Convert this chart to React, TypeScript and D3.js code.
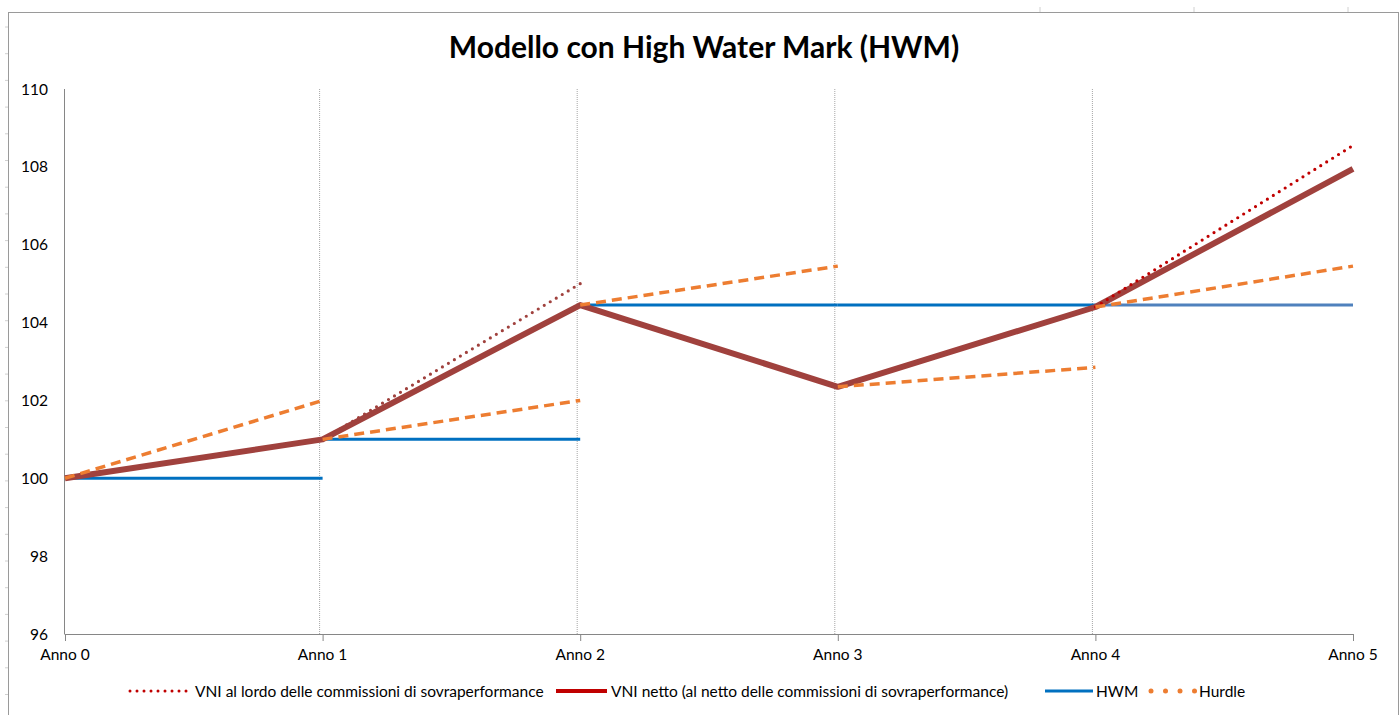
import React from "react";
import * as d3 from "d3";

const categories = ["Anno 0", "Anno 1", "Anno 2", "Anno 3", "Anno 4", "Anno 5"];
const yTicks = [96, 98, 100, 102, 104, 106, 108, 110];
const vniNetto = [100, 101, 104.45, 102.35, 104.4, 107.95];
// segments: [start category index, start value, end value] (to next category)
const vniLordoSegments: [number, number, number][] = [
  [1, 101, 105],
  [4, 104.4, 108.55],
];
const hwmSegments: [number, number, number][] = [
  [0, 100, 100],
  [1, 101, 101],
  [2, 104.45, 104.45],
  [3, 104.45, 104.45],
  [4, 104.45, 104.45],
];
const hurdleSegments: [number, number, number][] = [
  [0, 100, 102],
  [1, 101, 102],
  [2, 104.45, 105.45],
  [3, 102.35, 102.85],
  [4, 104.4, 105.45],
];
const legendLabels = [
  "VNI al lordo delle commissioni di sovraperformance",
  "VNI netto (al netto delle commissioni di sovraperformance)",
  "HWM",
  "Hurdle",
];

const W = 1400;
const H = 715;
const FONT = "Lato, 'Open Sans', sans-serif";

export default function App() {
  const x = d3.scalePoint<number>().domain(d3.range(categories.length)).range([65, 1353]);
  const y = d3.scaleLinear().domain([96, 110]).range([634, 89]);
  const line = d3
    .line<[number, number]>()
    .x((d) => x(d[0])!)
    .y((d) => y(d[1]));

  const seg = (s: [number, number, number]) =>
    line([
      [s[0], s[1]],
      [s[0] + 1, s[2]],
    ])!;

  const nettoPath = line(vniNetto.map((v, i) => [i, v] as [number, number]))!;

  const brown = "#A0413D";
  const red = "#C00000";
  const blue = "#0070C0";
  const orange = "#ED7D31";

  const rowTicks = d3.range(27, 715, 26.7);
  const colTicks = [1040, 1194, 1348];

  return (
    <svg
      width={W}
      height={H}
      style={{ position: "absolute", left: 0, top: 0, background: "#fff" }}
      fontFamily={FONT}
    >
      {/* spreadsheet hints */}
      {rowTicks.map((t, i) => (
        <line key={"r" + i} x1={5} x2={8} y1={t} y2={t} stroke="#d0d0d0" strokeWidth={1} />
      ))}
      {colTicks.map((t, i) => (
        <line key={"c" + i} x1={t} x2={t} y1={7} y2={12} stroke="#d0d0d0" strokeWidth={1} />
      ))}
      {/* chart frame */}
      <rect x={8.5} y={12.5} width={1390} height={710} fill="#fff" stroke="#9a9a9a" strokeWidth={1} />

      {/* title */}
      <text x={704} y={58} textAnchor="middle" fontSize={30} fontWeight="bold" fill="#000">
        Modello con High Water Mark (HWM)
      </text>

      {/* vertical gridlines */}
      {categories.slice(1, 5).map((c, i) => (
        <line
          key={c}
          x1={x(i + 1)! - 3}
          x2={x(i + 1)! - 3}
          y1={89}
          y2={634}
          stroke="#a6a6a6"
          strokeWidth={1}
          strokeDasharray="1 1"
        />
      ))}

      {/* axes */}
      <line x1={64.5} x2={64.5} y1={89} y2={634} stroke="#868686" strokeWidth={1} />
      <line x1={64.5} x2={1353} y1={634.5} y2={634.5} stroke="#868686" strokeWidth={1} />
      {categories.map((c, i) => (
        <g key={c}>
          <line x1={x(i)! + 0.5} x2={x(i)! + 0.5} y1={634} y2={641} stroke="#868686" strokeWidth={1} />
          <text x={x(i)!} y={660} textAnchor="middle" fontSize={15.5} fill="#000">
            {c}
          </text>
        </g>
      ))}
      {yTicks.map((t) => (
        <text key={t} x={48} y={y(t) + 5.5} textAnchor="end" fontSize={15.5} fill="#000">
          {t}
        </text>
      ))}

      {/* HWM */}
      {hwmSegments.map((s, i) => (
        <path
          key={"h" + i}
          d={seg(s)}
          fill="none"
          stroke={i === 4 ? "#4F81BD" : blue}
          strokeWidth={3}
        />
      ))}

      {/* VNI netto */}
      <path d={nettoPath} fill="none" stroke={brown} strokeWidth={6} strokeLinejoin="round" />

      {/* VNI lordo */}
      {vniLordoSegments.map((s, i) => (
        <path
          key={"l" + i}
          d={seg(s)}
          fill="none"
          stroke={i === 0 ? brown : red}
          strokeWidth={3.2}
          strokeLinecap="round"
          strokeDasharray="0 7"
        />
      ))}

      {/* Hurdle */}
      {hurdleSegments.map((s, i) => (
        <path
          key={"u" + i}
          d={seg(s)}
          fill="none"
          stroke={orange}
          strokeWidth={3.5}
          strokeDasharray="10 6"
        />
      ))}

      {/* legend */}
      <g fontSize={15.5} fill="#000">
        <line x1={130} x2={188} y1={691} y2={691} stroke={red} strokeWidth={3} strokeLinecap="round" strokeDasharray="0 7" />
        <text x={195} y={696.5}>{legendLabels[0]}</text>
        <line x1={556} x2={607} y1={691} y2={691} stroke={red} strokeWidth={4} />
        <text x={611} y={696.5}>{legendLabels[1]}</text>
        <line x1={1045} x2={1093} y1={691} y2={691} stroke={blue} strokeWidth={3} />
        <text x={1096} y={696.5}>{legendLabels[2]}</text>
        {[0, 1, 2, 3].map((k) => (
          <circle key={k} cx={1151 + k * 14.5} cy={691} r={2.5} fill={orange} />
        ))}
        <text x={1199} y={696.5}>{legendLabels[3]}</text>
      </g>
    </svg>
  );
}
